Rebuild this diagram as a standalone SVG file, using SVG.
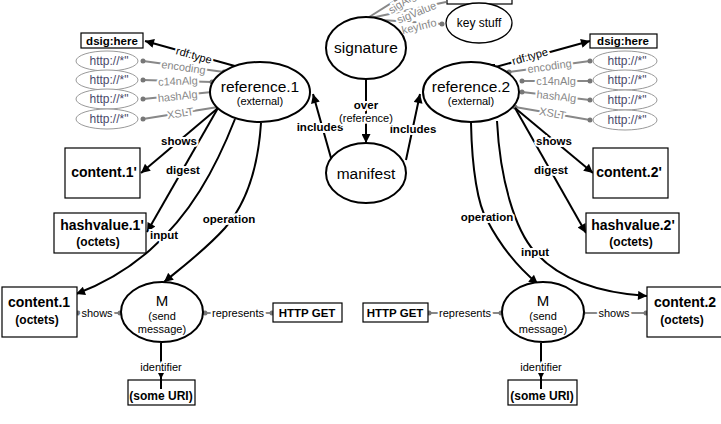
<svg xmlns="http://www.w3.org/2000/svg" width="721" height="424" viewBox="0 0 721 424">
<defs>
<marker id="arr" viewBox="0 0 10 10" refX="10" refY="5" markerWidth="11" markerHeight="9" markerUnits="userSpaceOnUse" orient="auto"><path d="M0,0 L10,5 L0,10 z" fill="#000"/></marker>
<marker id="arrs" viewBox="0 0 10 10" refX="10" refY="5" markerWidth="7" markerHeight="7" markerUnits="userSpaceOnUse" orient="auto"><path d="M0,0 L10,5 L0,10 z" fill="#000"/></marker>
</defs>
<style>
text{font-family:"Liberation Sans",Arial,sans-serif;text-anchor:middle}
.el{fill:#fff;stroke:#000;stroke-width:2}
.el1{fill:#fff;stroke:#000;stroke-width:1.3}
.gel{fill:#fff;stroke:#999;stroke-width:1}
.box{fill:#fff;stroke:#000;stroke-width:1.2}
.big{font-size:15.5px}
.sm{font-size:11px}
.bt{font-size:14px;font-weight:bold}
.bt2{font-size:12px;font-weight:bold}
.bt3{font-size:11.5px;font-weight:bold}
.http{font-size:12px;fill:#4a4a6a}
.e{fill:none;stroke:#000;stroke-width:2}
.g{fill:none;stroke:#888;stroke-width:2}
.lb{font-size:11.5px;font-weight:bold;paint-order:stroke;stroke:#fff;stroke-width:4px}
.ln{font-size:11px;paint-order:stroke;stroke:#fff;stroke-width:4px}
.lg{font-size:11px;fill:#888;paint-order:stroke;stroke:#fff;stroke-width:4px}
.dot{fill:#777}
</style>

<g id="connectors">
<!-- signature top edges -->
<path class="g" d="M366,19 L428,-20"/>
<path class="g" d="M366,19 L446,2"/>
<path class="g" d="M366,19 L442,24"/>
<text class="lg" transform="translate(404,6) rotate(-33)">sigAlg</text>
<text class="lg" transform="translate(418,16) rotate(-22)">sigValue</text>
<text class="lg" transform="translate(420,30) rotate(-14)">keyInfo</text>
<circle class="dot" cx="366" cy="19" r="2.5"/><circle class="dot" cx="442" cy="24" r="2.5"/>

<!-- left rdf:type and grey edges -->
<path class="e" d="M242,68 L145,41" marker-end="url(#arr)"/>
<rect x="238" y="64" width="6" height="6" fill="#000"/>
<text class="ln" transform="translate(193,59) rotate(16)">rdf:type</text>
<path class="g" d="M143,61 L224,72"/>
<path class="g" d="M143,80 L212,82"/>
<path class="g" d="M143,99 L212,92"/>
<path class="g" d="M143,119 L218,107"/>
<text class="lg" transform="translate(183,71) rotate(8)">encoding</text>
<text class="lg" transform="translate(178,85) rotate(-2)">c14nAlg</text>
<text class="lg" transform="translate(178,100) rotate(-6)">hashAlg</text>
<text class="lg" transform="translate(181,117) rotate(-9)">XSLT</text>
<circle class="dot" cx="143" cy="61" r="2.5"/><circle class="dot" cx="224" cy="72" r="2.5"/>
<circle class="dot" cx="143" cy="80" r="2.5"/><circle class="dot" cx="212" cy="82" r="2.5"/>
<circle class="dot" cx="143" cy="99" r="2.5"/><circle class="dot" cx="212" cy="92" r="2.5"/>
<circle class="dot" cx="143" cy="119" r="2.5"/><circle class="dot" cx="218" cy="107" r="2.5"/>

<!-- right rdf:type and grey edges -->
<path class="e" d="M492,68 L590,41" marker-end="url(#arr)"/>
<rect x="489" y="64" width="6" height="6" fill="#000"/>
<text class="ln" transform="translate(531,60) rotate(-16)">rdf:type</text>
<path class="g" d="M509,72 L590,61"/>
<path class="g" d="M522,81 L590,81"/>
<path class="g" d="M522,92 L590,100"/>
<path class="g" d="M515,107 L590,120"/>
<text class="lg" transform="translate(550,70) rotate(-8)">encoding</text>
<text class="lg" transform="translate(556,85)">c14nAlg</text>
<text class="lg" transform="translate(556,100) rotate(6)">hashAlg</text>
<text class="lg" transform="translate(552,117) rotate(10)">XSLT</text>
<circle class="dot" cx="509" cy="72" r="2.5"/><circle class="dot" cx="590" cy="61" r="2.5"/>
<circle class="dot" cx="522" cy="81" r="2.5"/><circle class="dot" cx="590" cy="81" r="2.5"/>
<circle class="dot" cx="522" cy="92" r="2.5"/><circle class="dot" cx="590" cy="100" r="2.5"/>
<circle class="dot" cx="515" cy="107" r="2.5"/><circle class="dot" cx="590" cy="120" r="2.5"/>

<!-- reference.1 black edges -->
<path class="e" d="M218,108 L141,173" marker-end="url(#arr)"/>
<path class="e" d="M218,108 L147,232" marker-end="url(#arr)"/>
<path class="e" d="M235,119 C215,170 190,215 150,250 C125,272 100,285 76,294" marker-end="url(#arr)"/>
<path class="e" d="M261,123 C258,170 245,205 225,228 C205,250 185,265 164,282" marker-end="url(#arr)"/>
<text class="lb" x="179" y="145">shows</text>
<text class="lb" x="183" y="174">digest</text>
<text class="lb" x="164" y="239">input</text>
<text class="lb" x="229" y="223">operation</text>

<!-- reference.2 black edges -->
<path class="e" d="M515,108 L593,173" marker-end="url(#arr)"/>
<path class="e" d="M515,108 L586,233" marker-end="url(#arr)"/>
<path class="e" d="M471,123 C472,170 478,205 487,220 C500,245 515,265 538,284" marker-end="url(#arr)"/>
<path class="e" d="M497,121 C500,180 515,230 535,252 C560,280 600,293 647,296" marker-end="url(#arr)"/>
<text class="lb" x="554" y="145">shows</text>
<text class="lb" x="551" y="174">digest</text>
<text class="lb" x="487" y="221">operation</text>
<text class="lb" x="535" y="256">input</text>

<!-- includes / over -->
<path class="e" d="M331,158 L313,94" marker-end="url(#arr)"/>
<path class="e" d="M406,160 L420,94" marker-end="url(#arr)"/>
<path class="e" d="M366,79 L366,143" marker-end="url(#arr)"/>
<text class="lb" x="320" y="131">includes</text>
<text class="lb" x="413" y="133">includes</text>
<text class="lb" x="366" y="109">over</text>
<text class="ln" x="366" y="122">(reference)</text>

<!-- bottom edges -->
<path class="g" d="M77,313 L121,313"/>
<path class="g" d="M204,313 L273,313"/>
<path class="g" d="M428,313 L502,313"/>
<path class="g" d="M582,313 L647,313"/>
<circle class="dot" cx="78" cy="313" r="2.5"/><circle class="dot" cx="120" cy="313" r="2.5"/>
<circle class="dot" cx="205" cy="313" r="2.5"/><circle class="dot" cx="272" cy="313" r="2.5"/>
<circle class="dot" cx="429" cy="313" r="2.5"/><circle class="dot" cx="501" cy="313" r="2.5"/>
<circle class="dot" cx="583" cy="313" r="2.5"/><circle class="dot" cx="646" cy="313" r="2.5"/>
<text class="ln" x="97" y="317">shows</text>
<text class="ln" x="238" y="317">represents</text>
<text class="ln" x="465" y="317">represents</text>
<text class="ln" x="614" y="317">shows</text>

<path class="e" d="M161,343 V379" marker-end="url(#arrs)"/>
<path class="e" d="M161,378 V389"/>
<path class="e" d="M541,343 V379" marker-end="url(#arrs)"/>
<path class="e" d="M541,378 V389"/>
<text class="ln" x="161" y="371">identifier</text>
<text class="ln" x="541" y="371">identifier</text>
</g>

<g id="sigbox"><rect class="box" x="447" y="-20" width="65" height="24"/></g>
<g id="keystuff"><ellipse class="el1" cx="479" cy="23" rx="33" ry="20"/><text x="479" y="27" style="font-size:12px">key stuff</text></g>
<g id="signature"><ellipse class="el" cx="366" cy="48" rx="40" ry="31"/><text class="big" x="366" y="53">signature</text></g>
<g id="manifest"><ellipse class="el" cx="366" cy="173" rx="40" ry="30"/><text class="big" x="366" y="179">manifest</text></g>

<g id="reference1"><ellipse class="el" cx="260" cy="92" rx="50" ry="30"/><text class="big" x="260" y="92">reference.1</text><text class="sm" x="260" y="105">(external)</text></g>
<g id="reference2"><ellipse class="el" cx="471" cy="92" rx="48" ry="30"/><text class="big" x="471" y="92">reference.2</text><text class="sm" x="471" y="105">(external)</text></g>

<g id="dsighere1"><rect class="box" x="81" y="33" width="62" height="15"/><text class="bt3" x="112" y="45">dsig:here</text></g>
<g id="dsighere2"><rect class="box" x="590" y="34" width="67" height="14"/><text class="bt3" x="623" y="45">dsig:here</text></g>

<g id="http1a"><ellipse class="gel" cx="107" cy="61" rx="31" ry="10"/><text class="http" x="109" y="65">http://*"</text></g>
<g id="http1b"><ellipse class="gel" cx="107" cy="80" rx="31" ry="10"/><text class="http" x="109" y="84">http://*"</text></g>
<g id="http1c"><ellipse class="gel" cx="107" cy="99" rx="31" ry="10"/><text class="http" x="109" y="103">http://*"</text></g>
<g id="http1d"><ellipse class="gel" cx="107" cy="119" rx="31" ry="10"/><text class="http" x="109" y="123">http://*"</text></g>
<g id="http2a"><ellipse class="gel" cx="625" cy="61" rx="32" ry="10"/><text class="http" x="627" y="65">http://*"</text></g>
<g id="http2b"><ellipse class="gel" cx="625" cy="80" rx="32" ry="10"/><text class="http" x="627" y="84">http://*"</text></g>
<g id="http2c"><ellipse class="gel" cx="625" cy="100" rx="32" ry="10"/><text class="http" x="627" y="104">http://*"</text></g>
<g id="http2d"><ellipse class="gel" cx="625" cy="120" rx="32" ry="10"/><text class="http" x="627" y="124">http://*"</text></g>

<g id="content1p"><rect class="box" x="65" y="148" width="75" height="50"/><text class="bt" x="104" y="177">content.1'</text></g>
<g id="hashvalue1p"><rect class="box" x="54" y="213" width="92" height="40"/><text class="bt" x="102" y="230">hashvalue.1'</text><text class="bt2" x="98" y="246">(octets)</text></g>
<g id="content2p"><rect class="box" x="593" y="148" width="75" height="50"/><text class="bt" x="629" y="177">content.2'</text></g>
<g id="hashvalue2p"><rect class="box" x="586" y="213" width="93" height="40"/><text class="bt" x="633" y="230">hashvalue.2'</text><text class="bt2" x="631" y="246">(octets)</text></g>

<g id="content1"><rect class="box" x="2" y="287" width="75" height="50"/><text class="bt" x="39" y="307">content.1</text><text class="bt2" x="37" y="324">(octets)</text></g>
<g id="content2"><rect class="box" x="647" y="287" width="80" height="50"/><text class="bt" x="685" y="307">content.2</text><text class="bt2" x="682" y="324">(octets)</text></g>

<g id="m1"><ellipse class="el" cx="162" cy="312" rx="41" ry="30"/><text x="162" y="306" style="font-size:15px">M</text><text class="sm" x="162" y="320">(send</text><text class="sm" x="162" y="333">message)</text></g>
<g id="m2"><ellipse class="el" cx="543" cy="312" rx="41" ry="30"/><text x="543" y="306" style="font-size:15px">M</text><text class="sm" x="543" y="320">(send</text><text class="sm" x="543" y="333">message)</text></g>

<g id="httpget1"><rect class="box" x="273" y="303" width="69" height="19"/><text class="bt3" x="307" y="317">HTTP GET</text></g>
<g id="httpget2"><rect class="box" x="363" y="303" width="65" height="19"/><text class="bt3" x="395" y="317">HTTP GET</text></g>

<g id="uri1"><rect class="box" x="128" y="380" width="67" height="25"/><text class="bt2" x="161" y="400">(some URI)</text></g>
<g id="uri2"><rect class="box" x="508" y="380" width="69" height="25"/><text class="bt2" x="542" y="400">(some URI)</text></g>
<path class="e" d="M161,380 V389 M541,380 V389"/>
</svg>
